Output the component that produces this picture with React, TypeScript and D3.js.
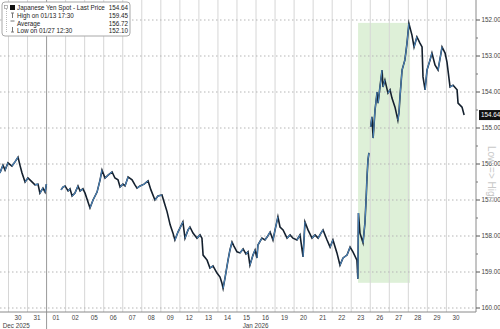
import React from "react";
import * as d3 from "d3";

// trading-day index: 0 = Dec 30 2025, each unit = one trading day
const dayLabels = ["30","31","01","02","05","06","07","08","09","12","13","14","15","16","19","20","21","22","23","26","27","28","29","30"];
const monthLabels: [number, string][] = [[-0.3, "Dec 2025"], [12.3, "Jan 2026"]];
const monthBoundary = 2; // Jan 01 starts at day index 2

const yTicks = [152, 153, 154, 155, 156, 157, 158, 159, 160];

// [day index, USDJPY]
const sessionDec: [number, number][] = [
  [-0.45,156.25],[-0.29,156.03],[-0.18,156.17],[-0.03,155.97],[0.18,156.06],[0.34,155.94],[0.50,155.81],
  [0.60,156.03],[0.71,156.25],[0.87,156.50],[1.02,156.39],[1.18,156.47],[1.39,156.58],[1.55,156.56],
  [1.65,156.81],[1.81,156.67],[1.92,156.78],[1.99,156.56],
];
const sessionJan: [number, number][] = [
  [2.76,156.72],[2.86,156.64],[2.97,156.61],[3.13,156.75],[3.23,156.69],[3.34,156.89],[3.49,156.81],
  [3.65,156.61],[3.76,156.75],[3.91,156.69],[4.02,156.81],[4.18,157.06],[4.28,157.22],[4.44,157.00],
  [4.65,156.78],[4.81,156.44],[4.91,156.17],[5.07,156.39],[5.23,156.31],[5.44,156.22],[5.59,156.39],
  [5.75,156.44],[5.86,156.64],[6.01,156.56],[6.12,156.61],[6.28,156.36],[6.49,156.44],[6.64,156.58],
  [6.75,156.67],[6.91,156.61],[7.12,156.56],[7.33,156.47],[7.48,156.72],[7.69,157.00],[7.85,156.89],
  [8.06,156.86],[8.22,157.14],[8.33,157.33],[8.49,157.69],[8.64,157.92],[8.74,158.11],[8.90,157.89],
  [9.06,157.72],[9.16,157.61],[9.27,158.06],[9.43,157.83],[9.53,157.75],[9.69,157.92],[9.90,158.06],
  [10.06,157.97],[10.16,158.06],[10.22,158.53],[10.43,158.67],[10.58,158.89],[10.74,158.83],[10.95,159.03],
  [11.11,159.14],[11.21,159.31],[11.27,159.45],[11.37,159.17],[11.53,158.67],[11.63,158.39],[11.74,158.17],
  [11.84,158.28],[12.00,158.44],[12.16,158.47],[12.32,158.36],[12.47,158.50],[12.58,158.44],[12.68,158.81],
  [12.84,158.53],[12.95,158.39],[13.05,158.61],[13.10,158.25],[13.31,158.06],[13.47,158.11],[13.58,158.03],
  [13.74,157.89],[13.89,158.11],[14.00,157.83],[14.15,157.47],[14.26,157.75],[14.42,157.83],[14.63,158.06],
  [14.79,157.97],[14.94,158.06],[15.15,158.11],[15.31,157.97],[15.47,158.58],[15.57,157.61],[15.73,157.83],
  [15.94,158.06],[16.10,157.97],[16.26,158.06],[16.41,157.92],[16.52,157.83],[16.73,158.11],[16.89,158.31],
  [17.04,158.11],[17.25,158.47],[17.41,158.81],[17.57,158.61],[17.78,158.53],[17.94,158.31],[18.09,158.44],
  [18.30,158.67],[18.35,159.19],[18.38,157.36],[18.46,157.92],[18.62,158.19],[18.72,157.64],[18.78,157.00],
  [18.83,156.36],[18.88,155.89],[18.93,155.69],
];
const sessionLate: [number, number][] = [
  [19.02,154.97],[19.09,154.69],[19.15,155.28],[19.25,154.50],[19.36,154.00],[19.41,154.31],[19.51,153.86],
  [19.62,153.39],[19.67,153.86],[19.77,153.67],[19.93,154.03],[20.04,153.94],[20.14,154.17],[20.30,154.42],
  [20.45,154.78],[20.51,154.56],[20.56,154.14],[20.67,153.39],[20.82,153.11],[20.93,152.64],[21.03,152.10],
  [21.19,152.42],[21.30,152.75],[21.45,152.47],[21.61,152.64],[21.72,152.75],[21.77,153.58],[21.88,153.94],
  [21.98,153.39],[22.14,153.11],[22.24,152.92],[22.40,153.25],[22.56,153.39],[22.77,152.75],[22.93,152.92],
  [23.03,153.17],[23.19,153.86],[23.35,153.81],[23.56,153.94],[23.61,154.31],[23.82,154.42],[23.93,154.64],
];

// highlighted window (day range, price range)
const highlightDays: [number, number] = [18.36, 21.09];
const highlightPrices: [number, number] = [152.08, 159.3];

const legendRows: [string, string][] = [
  ["Japanese Yen Spot - Last Price", "154.64"],
  ["High on 01/13 17:30", "159.45"],
  ["Average", "156.72"],
  ["Low on 01/27 12:30", "152.10"],
];
const lastPrice = 154.64;

const W = 500, H = 329;
const plotRight = 476, axisY = 312;
const FONT = "'Liberation Sans', Arial, sans-serif";
const FS = 6.3;

export default function App() {
  const x = d3.scaleLinear().domain([0, 24]).range([8.5, 8.5 + 19.04 * 24]);
  const y = d3.scaleLinear().domain([152, 160]).range([20, 308]);
  const line = d3.line<[number, number]>().x(d => x(d[0])).y(d => y(d[1]));
  const sessions = [sessionDec, sessionJan, sessionLate];

  const upSegs: string[] = [];
  sessions.forEach(s => {
    for (let i = 1; i < s.length; i++) {
      if (s[i][1] < s[i - 1][1]) upSegs.push(line([s[i - 1], s[i]]) as string);
    }
  });

  const minorTicks = d3.range(152.5, 160, 1);

  return (
    <svg width={W} height={H} style={{ position: "absolute", left: 0, top: 0, display: "block", background: "#fff" }}
      fontFamily={FONT}>
      {/* highlight */}
      <rect x={x(highlightDays[0])} y={y(highlightPrices[0])}
        width={x(highlightDays[1]) - x(highlightDays[0])}
        height={y(highlightPrices[1]) - y(highlightPrices[0])} fill="#def0d8" />
      {/* vertical day grid */}
      {d3.range(0, 24).map(i => (
        <line key={"v" + i} x1={x(i)} x2={x(i)} y1={0} y2={i === monthBoundary ? H : axisY}
          stroke={i === monthBoundary ? "#9a9a9a" : "#d6d6d6"} strokeWidth={1} />
      ))}
      {/* horizontal grid */}
      {yTicks.map(t => (
        <line key={"h" + t} x1={0} x2={plotRight} y1={y(t)} y2={y(t)} stroke="#b5b5b5"
          strokeDasharray="1.5,2.5" strokeWidth={1} />
      ))}
      {/* series */}
      {sessions.map((s, i) => (
        <path key={"s" + i} d={line(s) as string} fill="none" stroke="#14202e" strokeWidth={1.6} strokeLinejoin="miter" strokeMiterlimit={6} />
      ))}
      {upSegs.map((d, i) => (
        <path key={"u" + i} d={d} fill="none" stroke="#4d86bd" strokeWidth={1.1} />
      ))}
      {/* axes */}
      <line x1={plotRight} x2={plotRight} y1={0} y2={axisY} stroke="#8a8a8a" />
      <line x1={0} x2={plotRight} y1={axisY} y2={axisY} stroke="#8a8a8a" />
      {yTicks.map(t => (
        <g key={"yt" + t}>
          <line x1={plotRight} x2={plotRight + 4} y1={y(t)} y2={y(t)} stroke="#555" />
          <text x={plotRight + 5.5} y={y(t)} dy="0.35em" fontSize={FS} fill="#444">{t.toFixed(2)}</text>
        </g>
      ))}
      {minorTicks.map(t => (
        <line key={"mt" + t} x1={plotRight} x2={plotRight + 2} y1={y(t)} y2={y(t)} stroke="#777" />
      ))}
      {/* watermark */}
      <text transform={`translate(487.5,${y(155.5)}) rotate(90)`} fontSize={10} fill="#c8c8c8">Low =&gt; High</text>
      {/* last price tag */}
      <rect x={plotRight + 3} y={y(lastPrice) - 5} width={W - plotRight - 3} height={10} fill="#111" />
      <text x={plotRight + 5} y={y(lastPrice)} dy="0.35em" fontSize={FS} fill="#fff">{lastPrice.toFixed(2)}</text>
      {/* x labels */}
      {dayLabels.map((l, i) => (
        <text key={"d" + i} x={x(i + 0.5)} y={320} textAnchor="middle" fontSize={FS} fill="#444">{l}</text>
      ))}
      {monthLabels.map(([d, l]) => (
        <text key={l} x={x(d)} y={327.5} fontSize={FS} fill="#444">{l}</text>
      ))}
      {/* legend */}
      <rect x={2} y={2} width={128} height={34} rx={3} fill="#fff" stroke="#a8a8a8" />
      <line x1={6.5} x2={6.5} y1={9} y2={32} stroke="#bbb" strokeDasharray="1,1" />
      <rect x={4.5} y={5.5} width={3} height={3} fill="#fff" stroke="#999" strokeWidth={0.7} />
      <rect x={10} y={5} width={5} height={5} fill="#111" />
      <line x1={11} x2={14} y1={13} y2={13} stroke="#777" /><line x1={12.5} x2={12.5} y1={13} y2={18} stroke="#777" />
      <line x1={10.5} x2={14.5} y1={21} y2={21} stroke="#777" />
      <line x1={11} x2={14} y1={32} y2={32} stroke="#777" /><line x1={12.5} x2={12.5} y1={27} y2={32} stroke="#777" />
      {legendRows.map(([label, val], i) => (
        <g key={"lg" + i}>
          <text x={17} y={8 + i * 7.7} dy="0.35em" fontSize={FS} fill="#222">{label}</text>
          <text x={128} y={8 + i * 7.7} dy="0.35em" textAnchor="end" fontSize={FS} fill="#222">{val}</text>
        </g>
      ))}
    </svg>
  );
}
